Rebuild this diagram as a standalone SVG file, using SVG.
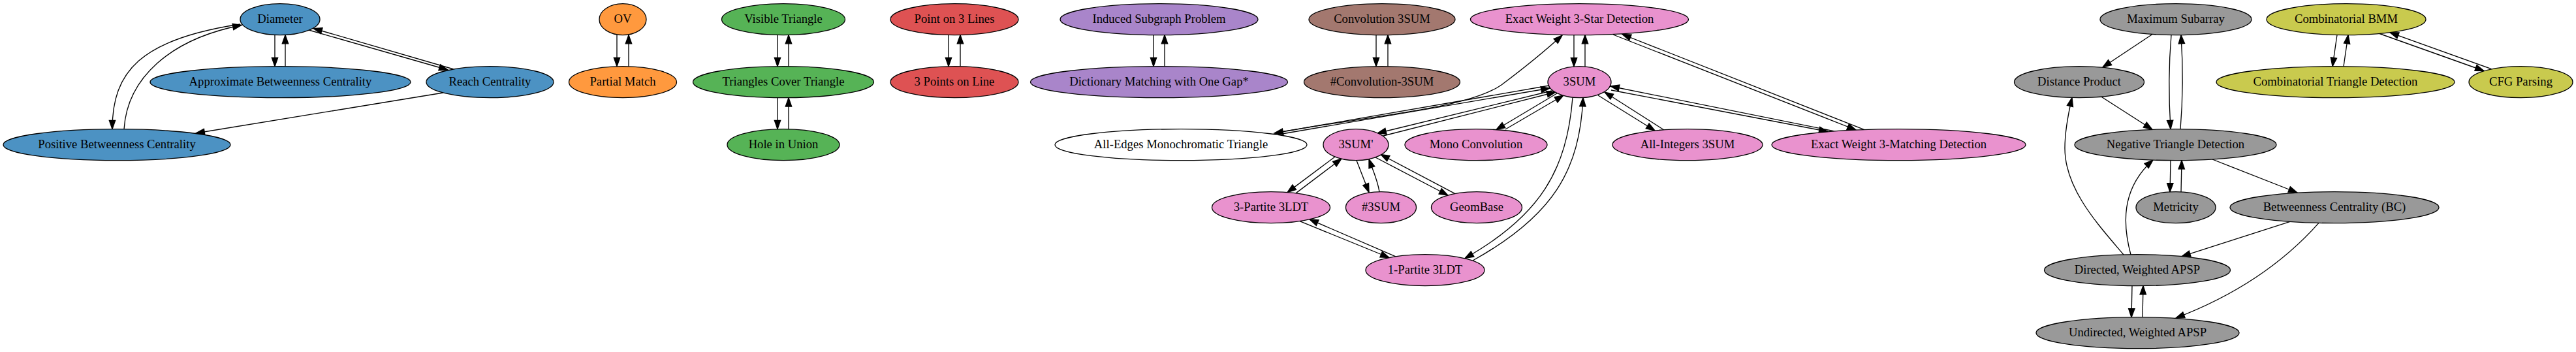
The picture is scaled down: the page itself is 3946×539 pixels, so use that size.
<svg xmlns="http://www.w3.org/2000/svg" width="3946" height="539" viewBox="0 0 3946 539">
<defs>
<style>
.node ellipse{stroke:#000;stroke-width:1.33}
.node text{font-family:"Liberation Serif","Times New Roman",serif;font-size:18.67px;text-anchor:middle;fill:#000}
.blue ellipse{fill:#4c92c3}
.orange ellipse{fill:#ff993e}
.green ellipse{fill:#56b356}
.red ellipse{fill:#de5253}
.purple ellipse{fill:#a985ca}
.brown ellipse{fill:#a3786f}
.pink ellipse{fill:#e992ce}
.white ellipse{fill:#ffffff}
.grey ellipse{fill:#999999}
.olive ellipse{fill:#c9ca4e}
#edges path{fill:none;stroke:#000;stroke-width:1.33;marker-end:url(#arr)}
</style>
<marker id="arr" markerUnits="userSpaceOnUse" markerWidth="16" markerHeight="12" refX="14.33" refY="5.67" orient="auto" style="overflow:visible">
<path d="M1,1 L14.33,5.67 L1,10.33 Z" fill="#000" stroke="#000" stroke-width="1.33"/>
</marker>
</defs>
<rect width="3946" height="539" fill="#fff"/>

<g id="edges">
<!-- blue -->
<path d="M421,53.5 L421,101.7"/>
<path d="M437,101.7 L437,53.5"/>
<path d="M473,46 L686,107"/>
<path d="M695,106 L480,43.5"/>
<path d="M368,37 C215,60 172,110 172,197.7"/>
<path d="M190,197.7 C195,120 260,60 370,38.5"/>
<path d="M679,142 L300,204"/>
<!-- orange -->
<path d="M945,53.5 L945,101.7"/>
<path d="M963,101.7 L963,53.5"/>
<!-- green -->
<path d="M1191,53.5 L1191,101.7"/>
<path d="M1208,101.7 L1208,53.5"/>
<path d="M1191,149.7 L1191,197.7"/>
<path d="M1208,197.7 L1208,149.7"/>
<!-- red -->
<path d="M1453,53.5 L1453,101.7"/>
<path d="M1471,101.7 L1471,53.5"/>
<!-- purple -->
<path d="M1767,53.5 L1767,101.7"/>
<path d="M1784,101.7 L1784,53.5"/>
<!-- brown -->
<path d="M2108,53.5 L2108,101.7"/>
<path d="M2126,101.7 L2126,53.5"/>
<!-- pink -->
<path d="M2411,53.5 L2411,102"/>
<path d="M2428,102 L2428,53.5"/>
<path d="M1955,203 C2120,175 2250,165 2300,130 C2340,100 2370,75 2393,54"/>
<path d="M2373,131 L1952,204"/>
<path d="M1958,206 L2374,135"/>
<path d="M2377,139 L2110,204"/>
<path d="M2119,208 L2383,141"/>
<path d="M2385,143 L2292,198.5"/>
<path d="M2306,198 L2395,146"/>
<path d="M2409,149.5 C2400,260 2360,330 2244,395.5"/>
<path d="M2256,399 C2380,330 2420,260 2425,149.5"/>
<path d="M2448,146 L2535,200"/>
<path d="M2549,199 L2458,141"/>
<path d="M2468,138 L2800,201.5"/>
<path d="M2810,201 L2467,132"/>
<path d="M2471,53 L2843,199"/>
<path d="M2856,198.6 L2485,52.5"/>
<path d="M2078,245.7 L2097,294.5"/>
<path d="M2113,293.7 C2110,275 2102,258 2097,243.7"/>
<path d="M2107,241 L2218,299"/>
<path d="M2229,296.6 L2115,236.5"/>
<path d="M2045,240 L1972,294.6"/>
<path d="M1985,295.9 L2055,243"/>
<path d="M1991,338.7 L2128,394.5"/>
<path d="M2138,392.8 L2006,335.9"/>
<!-- grey -->
<path d="M3297,52.5 L3221,103"/>
<path d="M3326,53.5 C3322,100 3322,150 3325,197.7"/>
<path d="M3340,197.7 C3344,150 3344,100 3341,53.5"/>
<path d="M3219,148.3 L3297,198.3"/>
<path d="M3253,390 C3215,345 3163,290 3163,227 C3163,200 3168,175 3174,149.5"/>
<path d="M3264,390 C3252,345 3248,290 3298,245"/>
<path d="M3325,245.5 L3324,294"/>
<path d="M3341,294 L3342,245.5"/>
<path d="M3389,244 L3519,295"/>
<path d="M3508,339.4 L3342,392.6"/>
<path d="M3552,341.4 C3500,400 3430,450 3333,487"/>
<path d="M3266,437.5 L3265,486"/>
<path d="M3282,486 L3283,437.5"/>
<!-- olive -->
<path d="M3580,53.5 L3573,101.7"/>
<path d="M3590,101.7 L3597,53.5"/>
<path d="M3645,51.5 L3805,108.5"/>
<path d="M3817,105.8 L3661,49.8"/>
</g>

<g id="diameter" class="node blue"><ellipse cx="429" cy="29.7" rx="61" ry="24"/><text x="429" y="35.3">Diameter</text></g>
<g id="approx_bc" class="node blue"><ellipse cx="429.5" cy="125.7" rx="199.5" ry="24"/><text x="429.5" y="131.3">Approximate Betweenness Centrality</text></g>
<g id="reach" class="node blue"><ellipse cx="750.5" cy="125.7" rx="97.5" ry="24"/><text x="750.5" y="131.3">Reach Centrality</text></g>
<g id="positive_bc" class="node blue"><ellipse cx="179" cy="221.7" rx="174" ry="24"/><text x="179" y="227.3">Positive Betweenness Centrality</text></g>

<g id="ov" class="node orange"><ellipse cx="954" cy="29.7" rx="36" ry="24"/><text x="954" y="35.3">OV</text></g>
<g id="partial_match" class="node orange"><ellipse cx="954" cy="125.7" rx="82.5" ry="24"/><text x="954" y="131.3">Partial Match</text></g>

<g id="visible_triangle" class="node green"><ellipse cx="1200" cy="29.7" rx="94.5" ry="24"/><text x="1200" y="35.3">Visible Triangle</text></g>
<g id="triangles_cover" class="node green"><ellipse cx="1200" cy="125.7" rx="138.5" ry="24"/><text x="1200" y="131.3">Triangles Cover Triangle</text></g>
<g id="hole_in_union" class="node green"><ellipse cx="1200" cy="221.7" rx="86" ry="24"/><text x="1200" y="227.3">Hole in Union</text></g>

<g id="point_on_3_lines" class="node red"><ellipse cx="1462" cy="29.7" rx="98" ry="24"/><text x="1462" y="35.3">Point on 3 Lines</text></g>
<g id="points_on_line" class="node red"><ellipse cx="1462" cy="125.7" rx="98" ry="24"/><text x="1462" y="131.3">3 Points on Line</text></g>

<g id="induced_subgraph" class="node purple"><ellipse cx="1775.5" cy="29.7" rx="151.5" ry="24"/><text x="1775.5" y="35.3">Induced Subgraph Problem</text></g>
<g id="dictionary_matching" class="node purple"><ellipse cx="1775.5" cy="125.7" rx="197" ry="24"/><text x="1775.5" y="131.3">Dictionary Matching with One Gap*</text></g>

<g id="convolution_3sum" class="node brown"><ellipse cx="2117" cy="29.7" rx="112" ry="24"/><text x="2117" y="35.3">Convolution 3SUM</text></g>
<g id="count_convolution_3sum" class="node brown"><ellipse cx="2117" cy="125.7" rx="119.5" ry="24"/><text x="2117" y="131.3">#Convolution-3SUM</text></g>

<g id="ew_3star" class="node pink"><ellipse cx="2419.5" cy="29.7" rx="167" ry="24"/><text x="2419.5" y="35.3">Exact Weight 3-Star Detection</text></g>
<g id="sum3" class="node pink"><ellipse cx="2419.5" cy="125.7" rx="48.5" ry="24"/><text x="2419.5" y="131.3">3SUM</text></g>
<g id="all_edges_mono" class="node white"><ellipse cx="1809" cy="221.7" rx="193" ry="24"/><text x="1809" y="227.3">All-Edges Monochromatic Triangle</text></g>
<g id="sum3_prime" class="node pink"><ellipse cx="2077" cy="221.7" rx="50" ry="24"/><text x="2077" y="227.3">3SUM'</text></g>
<g id="mono_convolution" class="node pink"><ellipse cx="2261" cy="221.7" rx="109" ry="24"/><text x="2261" y="227.3">Mono Convolution</text></g>
<g id="all_integers_3sum" class="node pink"><ellipse cx="2585" cy="221.7" rx="115" ry="24"/><text x="2585" y="227.3">All-Integers 3SUM</text></g>
<g id="ew_3matching" class="node pink"><ellipse cx="2908.5" cy="221.7" rx="194.5" ry="24"/><text x="2908.5" y="227.3">Exact Weight 3-Matching Detection</text></g>
<g id="partite3_3ldt" class="node pink"><ellipse cx="1947" cy="317.7" rx="90.5" ry="24"/><text x="1947" y="323.3">3-Partite 3LDT</text></g>
<g id="count_3sum" class="node pink"><ellipse cx="2115.5" cy="317.7" rx="54" ry="24"/><text x="2115.5" y="323.3">#3SUM</text></g>
<g id="geombase" class="node pink"><ellipse cx="2262" cy="317.7" rx="69.5" ry="24"/><text x="2262" y="323.3">GeomBase</text></g>
<g id="partite1_3ldt" class="node pink"><ellipse cx="2183" cy="413.7" rx="91" ry="24"/><text x="2183" y="419.3">1-Partite 3LDT</text></g>

<g id="maximum_subarray" class="node grey"><ellipse cx="3333" cy="29.7" rx="116" ry="24"/><text x="3333" y="35.3">Maximum Subarray</text></g>
<g id="distance_product" class="node grey"><ellipse cx="3185" cy="125.7" rx="99.5" ry="24"/><text x="3185" y="131.3">Distance Product</text></g>
<g id="negative_triangle" class="node grey"><ellipse cx="3332.5" cy="221.7" rx="154.5" ry="24"/><text x="3332.5" y="227.3">Negative Triangle Detection</text></g>
<g id="metricity" class="node grey"><ellipse cx="3333" cy="317.7" rx="61" ry="24"/><text x="3333" y="323.3">Metricity</text></g>
<g id="betweenness_bc" class="node grey"><ellipse cx="3576" cy="317.7" rx="160" ry="24"/><text x="3576" y="323.3">Betweenness Centrality (BC)</text></g>
<g id="directed_apsp" class="node grey"><ellipse cx="3274" cy="413.7" rx="142.5" ry="24"/><text x="3274" y="419.3">Directed, Weighted APSP</text></g>
<g id="undirected_apsp" class="node grey"><ellipse cx="3274.5" cy="509.7" rx="155.5" ry="24"/><text x="3274.5" y="515.3">Undirected, Weighted APSP</text></g>

<g id="combinatorial_bmm" class="node olive"><ellipse cx="3594" cy="29.7" rx="122" ry="24"/><text x="3594" y="35.3">Combinatorial BMM</text></g>
<g id="combinatorial_triangle" class="node olive"><ellipse cx="3577.5" cy="125.7" rx="182.5" ry="24"/><text x="3577.5" y="131.3">Combinatorial Triangle Detection</text></g>
<g id="cfg_parsing" class="node olive"><ellipse cx="3861.5" cy="125.7" rx="79.5" ry="24"/><text x="3861.5" y="131.3">CFG Parsing</text></g>
</svg>
